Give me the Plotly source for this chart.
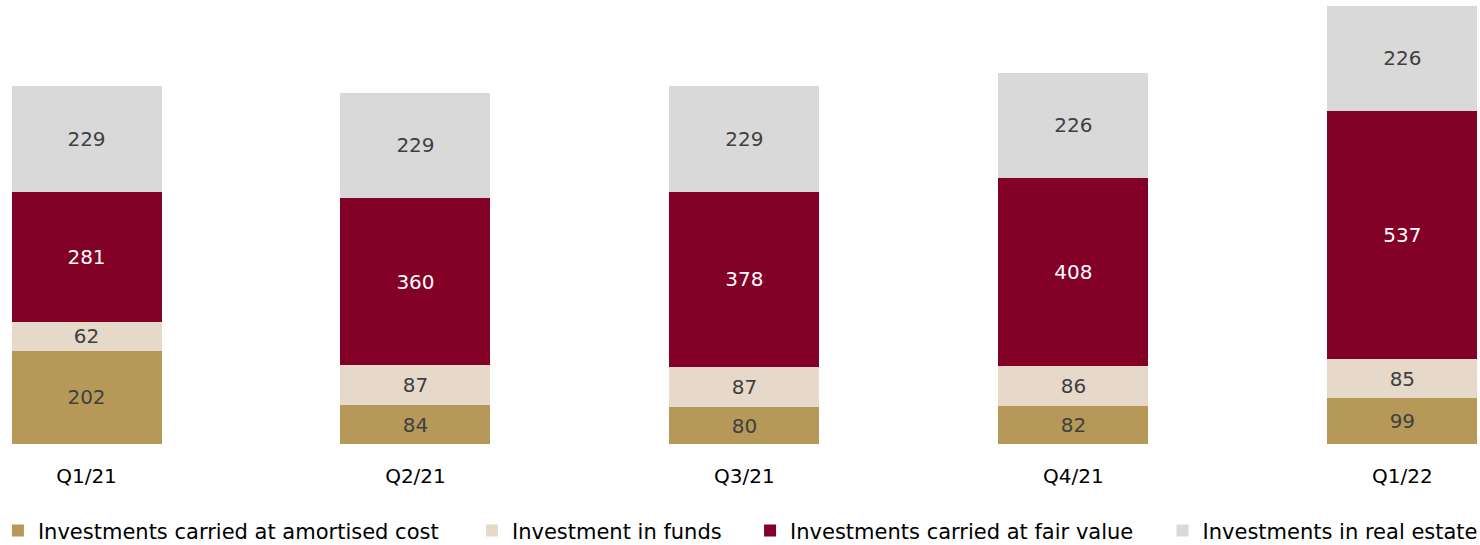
import plotly.graph_objects as go

quarters = ["Q1/21", "Q2/21", "Q3/21", "Q4/21", "Q1/22"]
amortised_cost = [202, 84, 80, 82, 99]
funds = [62, 87, 87, 86, 85]
fair_value = [281, 360, 378, 408, 537]
real_estate = [229, 229, 229, 226, 226]

FONT = "DejaVu Sans"

series = [
    ("Investments carried at amortised cost", amortised_cost, "#B69859", "#404040"),
    ("Investment in funds", funds, "#E6D9CA", "#404040"),
    ("Investments carried at fair value", fair_value, "#830027", "#FFFFFF"),
    ("Investments in real estate", real_estate, "#D9D9D9", "#404040"),
]
legend_ids = ["legend", "legend2", "legend3", "legend4"]
legend_x = [-0.0014, 0.3189, 0.5068, 0.7855]

fig = go.Figure()
for (name, vals, color, txt_color), lid in zip(series, legend_ids):
    fig.add_trace(go.Bar(
        x=quarters, y=vals, name=name,
        marker=dict(color=color, line=dict(width=0)),
        text=vals, textposition="inside", insidetextanchor="middle",
        textangle=0, constraintext="none",
        textfont=dict(color=txt_color, size=20, family=FONT),
        legend=lid,
    ))

legend_style = dict(
    orientation="h", yref="container", y=0.026, yanchor="middle", xanchor="left",
    font=dict(size=21, color="#000000", family=FONT),
    bgcolor="rgba(0,0,0,0)", itemclick=False,
)
layout_legends = {}
for lid, lx in zip(legend_ids, legend_x):
    layout_legends[lid] = dict(legend_style, x=lx)

fig.update_layout(
    barmode="stack",
    bargap=0.544,
    width=1480, height=545,
    margin=dict(l=0, r=0, t=0, b=101, autoexpand=False),
    paper_bgcolor="white", plot_bgcolor="white",
    showlegend=True,
    xaxis=dict(range=[-0.263, 4.236], showgrid=False, showline=False, ticks="",
               ticklabelstandoff=18, automargin=False,
               tickfont=dict(size=20, color="#000000", family=FONT)),
    yaxis=dict(range=[0, 960], visible=False),
    **layout_legends,
)

fig.write_html("out.html", config={"displayModeBar": False},
               post_script="document.body.style.margin='0';")
